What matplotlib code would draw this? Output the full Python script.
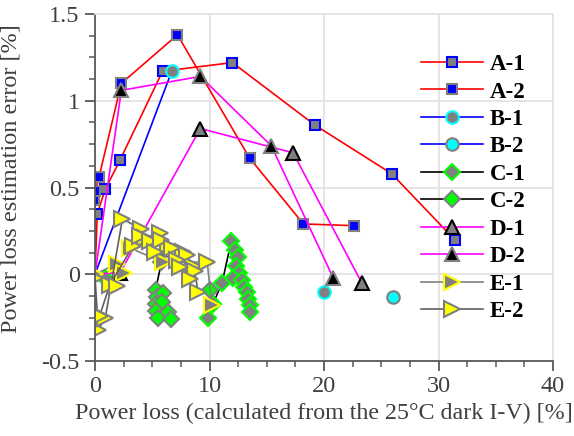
import numpy as np
import matplotlib
matplotlib.use("Agg")
import matplotlib.pyplot as plt
from matplotlib.ticker import MultipleLocator

nan = np.nan

# series values (x: power loss [%], y: estimation error [%])
a1_x = [0, 0.2, 0.9, 2.2, 5.9, 12.0, 19.2, 25.9, 31.4]
a1_y = [0, 0.35, 0.49, 0.66, 1.17, 1.22, 0.86, 0.58, 0.20]
a2_x = [0, -0.05, 0.0, 0.35, 2.3, 7.2, 13.5, 18.2, 22.6]
a2_y = [0, 0.43, 0.48, 0.56, 1.10, 1.38, 0.67, 0.29, 0.28]
b1_x = [0, 6.7, nan, 20.0]
b1_y = [0, 1.17, nan, -0.10]
b2_x = [26.0]
b2_y = [-0.13]
c1_x = [0.9, nan, 9.9, 10.3, 11.1, 11.9, 12.2, 12.5, 12.3, 12.6, 12.05, 12.8, 13.0, 13.3, 13.4, 13.5, 13.5]
c1_y = [-0.02, nan, -0.25, -0.17, -0.05, 0.19, 0.14, 0.10, 0.05, 0.01, -0.02, -0.035, -0.075, -0.10, -0.14, -0.18, -0.22]
c2_x = [5.8, 5.3, 5.4, 5.9, 5.3, 5.85, 5.3, 5.5, 6.4, 6.6, nan, 10.0]
c2_y = [0.07, -0.09, -0.13, -0.11, -0.17, -0.16, -0.21, -0.25, -0.22, -0.26, nan, -0.09]
d1_x = [0, 2.2, 9.2, 17.3, 23.3]
d1_y = [0, 0.01, 0.84, 0.70, -0.05]
d2_x = [0, 2.3, 9.2, 15.4, 20.8]
d2_y = [0, 1.06, 1.14, 0.74, -0.02]
e1_x = [0, 1.9, 2.5, nan, 3.1, 5.9, 9.8, 10.2]
e1_y = [0, 0.06, 0.01, nan, 0.15, 0.07, 0.07, -0.18]
e2_x = [0, 0.3, 0.9, 2.4, 4.0, 4.4, 5.7, 6.4, 7.7, 8.6, 9.8, nan,
        0.4, 1.3, 3.3, 3.9, 4.8, 5.8, 6.7, 8.0, 8.7, 9.0, nan, 5.2, 7.2, 7.4, 8.3, nan, 1.9]
e2_y = [-0.02, -0.32, -0.25, 0.32, 0.26, 0.21, 0.24, 0.16, 0.13, 0.05, 0.07, nan,
        -0.24, -0.06, 0.16, 0.22, 0.19, 0.20, 0.15, 0.11, 0.02, -0.10, nan, 0.13, 0.08, 0.04, -0.03, nan, -0.07]

labels = ["A-1", "A-2", "B-1", "B-2", "C-1", "C-2", "D-1", "D-2", "E-1", "E-2"]
xticks = [0, 10, 20, 30, 40]
yticks = [-0.5, 0, 0.5, 1, 1.5]
ytick_labels = ["-0.5", "0", "0.5", "1", "1.5"]

plt.rcParams['font.family'] = ['Liberation Serif', 'DejaVu Serif']
text_col = '#404040'

fig = plt.figure(figsize=(5.74, 4.36), dpi=100)
ax = fig.add_axes([95 / 574, 75 / 436, 458 / 574, 347 / 436])

skip0 = slice(1, None)
series = [
    (a1_x, a1_y, dict(color='red', marker='s', ms=7.5, mfc='#808080', mec='blue', markevery=skip0)),
    (a2_x, a2_y, dict(color='red', marker='s', ms=7.5, mfc='blue', mec='#808080', markevery=skip0)),
    (b1_x, b1_y, dict(color='blue', marker='o', ms=9, mfc='#808080', mec='cyan', markevery=[1, 3])),
    (b2_x, b2_y, dict(color='blue', marker='o', ms=9, mfc='cyan', mec='#808080')),
    (c1_x, c1_y, dict(color='black', marker='D', ms=8, mfc='#808080', mec='#00ff00')),
    (c2_x, c2_y, dict(color='black', marker='D', ms=8, mfc='#00ff00', mec='#808080')),
    (d1_x, d1_y, dict(color='magenta', marker='^', ms=10.5, mfc='#808080', mec='black', markevery=skip0)),
    (d2_x, d2_y, dict(color='magenta', marker='^', ms=10.5, mfc='black', mec='#808080', markevery=skip0)),
    (e1_x, e1_y, dict(color='#808080', marker='>', ms=11, mfc='#808080', mec='yellow')),
    (e2_x, e2_y, dict(color='#606060', marker='>', ms=11, mfc='yellow', mec='#808080')),
]
for (x, y, kw), lab in zip(series, labels):
    ax.plot(x, y, lw=1.2, mew=1.5, label=lab, **kw)

ax.set_xlim(0, 40)
ax.set_ylim(-0.5, 1.5)
ax.set_xticks(xticks)
ax.set_yticks(yticks)
ax.set_yticklabels(ytick_labels)
ax.xaxis.set_minor_locator(MultipleLocator(2.5))
ax.yaxis.set_minor_locator(MultipleLocator(0.125))
ax.grid(True, which='major', color='#e3e3e3', lw=1.3)
ax.set_axisbelow(True)

for s in ['left', 'bottom']:
    ax.spines[s].set_color('#595959')
    ax.spines[s].set_linewidth(1.3)
for s in ['top', 'right']:
    ax.spines[s].set_color('#e3e3e3')
    ax.spines[s].set_linewidth(1.3)

ax.tick_params(which='major', direction='out', length=7, width=1.3, color='#595959',
               labelsize=17.5, labelcolor=text_col, pad=4)
ax.tick_params(which='minor', direction='out', length=4, width=1.1, color='#595959')

ax.set_xlabel("Power loss (calculated from the 25°C dark I-V) [%]", fontsize=17.3, color=text_col, labelpad=4)
ax.set_ylabel("Power loss estimation error [%]", fontsize=17.5, color=text_col)
ax.yaxis.set_label_coords(-0.16, 0.527)

leg = ax.legend(loc='upper left', bbox_to_anchor=(421 / 574, 1 - 54 / 436), bbox_transform=fig.transFigure,
                frameon=False, borderpad=0, borderaxespad=0, handlelength=2.7, handletextpad=0.3,
                labelspacing=0.28, prop={'weight': 'bold', 'size': 16.5})

fig.savefig("out.png", dpi=100)
